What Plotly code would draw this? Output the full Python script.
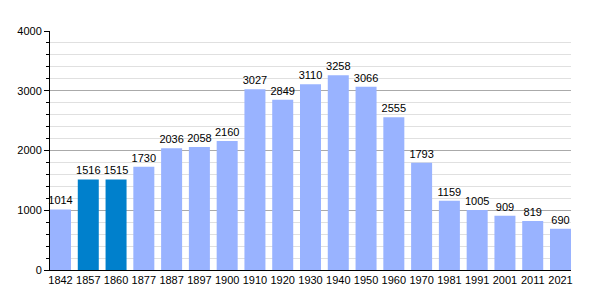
import plotly.graph_objects as go

years = ["1842", "1857", "1860", "1877", "1887", "1897", "1900", "1910", "1920", "1930",
         "1940", "1950", "1960", "1970", "1981", "1991", "2001", "2011", "2021"]
population = [1014, 1516, 1515, 1730, 2036, 2058, 2160, 3027, 2849, 3110,
              3258, 3066, 2555, 1793, 1159, 1005, 909, 819, 690]
highlight = ["1857", "1860"]

colors = ["#0080cc" if y in highlight else "#99b3ff" for y in years]

fig = go.Figure(go.Bar(
    x=years, y=population,
    marker=dict(color=colors, line=dict(width=0)),
    text=[str(v) for v in population],
    textposition="outside",
    textfont=dict(family="Liberation Sans, Arial, sans-serif", size=11, color="#000"),
    cliponaxis=False,
    width=0.756,
))

fig.update_layout(
    width=600, height=300,
    margin=dict(l=50, r=29, t=31, b=30),
    plot_bgcolor="white", paper_bgcolor="white",
    showlegend=False,
    font=dict(family="Liberation Sans, Arial, sans-serif", size=11, color="#000"),
    uniformtext=dict(minsize=11, mode="show"),
)
fig.update_xaxes(
    type="category", range=[-0.378, 18.378],
    showline=True, linecolor="#000", linewidth=1,
    ticks="", showgrid=False,
    tickfont=dict(size=11),
)
fig.update_yaxes(
    range=[0, 4000], tickvals=[0, 1000, 2000, 3000, 4000],
    showline=True, linecolor="#000", linewidth=1,
    ticks="outside", ticklen=5, tickcolor="#000",
    showgrid=True, gridcolor="#aaaaaa", gridwidth=1,
    zeroline=False,
    minor=dict(dtick=200, showgrid=True, gridcolor="#e0e0e0", ticks="outside", ticklen=3, tickcolor="#000"),
    tickfont=dict(size=11),
)

fig.write_html("out.html")
